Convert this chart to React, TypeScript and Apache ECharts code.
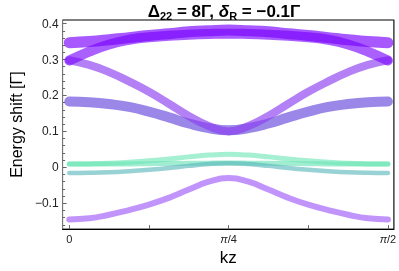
import React, { useEffect, useRef } from "react";
import * as echarts from "echarts";

// kz sample points: 0 .. π/2 in steps of π/32
const kz = [0, 0.0982, 0.1963, 0.2945, 0.3927, 0.4909, 0.589, 0.6872, 0.7854, 0.8836, 0.9817, 1.0799, 1.1781, 1.2763, 1.3744, 1.4726, 1.5708];

// bands (energy shift in units of Γ)
const bandA = [0.347, 0.35, 0.355, 0.361, 0.367, 0.372, 0.377, 0.38, 0.382, 0.38, 0.377, 0.372, 0.367, 0.361, 0.355, 0.35, 0.347];
const bandB = [0.297, 0.322, 0.342, 0.355, 0.362, 0.366, 0.369, 0.371, 0.372, 0.371, 0.369, 0.366, 0.362, 0.355, 0.342, 0.322, 0.297];
const bandC = [0.298, 0.285, 0.265, 0.239, 0.21, 0.177, 0.143, 0.115, 0.1, 0.115, 0.143, 0.177, 0.21, 0.239, 0.265, 0.285, 0.298];
const bandD = [0.183, 0.181, 0.176, 0.168, 0.155, 0.139, 0.122, 0.109, 0.103, 0.109, 0.122, 0.139, 0.155, 0.168, 0.176, 0.181, 0.183];
const bandE1 = [0.009, 0.0095, 0.011, 0.014, 0.018, 0.023, 0.029, 0.034, 0.036, 0.034, 0.029, 0.023, 0.018, 0.014, 0.011, 0.0095, 0.009];
const bandE2 = [0.009, 0.009, 0.009, 0.0095, 0.01, 0.0105, 0.011, 0.0115, 0.012, 0.0115, 0.011, 0.0105, 0.01, 0.0095, 0.009, 0.009, 0.009];
const bandF = [-0.016, -0.0155, -0.014, -0.011, -0.007, -0.002, 0.004, 0.009, 0.011, 0.009, 0.004, -0.002, -0.007, -0.011, -0.014, -0.0155, -0.016];
const bandG = [-0.145, -0.142, -0.132, -0.119, -0.104, -0.085, -0.062, -0.04, -0.03, -0.04, -0.062, -0.085, -0.104, -0.119, -0.132, -0.142, -0.145];

// axis ticks
const xTickValues = [0, 0.3927, 0.7854, 1.1781, 1.5708];
const xLabelValues = [0, 0.7854, 1.5708];
const xLabelTexts = ["0", "{i|π}/4", "{i|π}/2"];
const yMajor = [-0.1, 0, 0.1, 0.2, 0.3, 0.4];
const yMinor = [-0.16, -0.14, -0.12, -0.08, -0.06, -0.04, -0.02, 0.02, 0.04, 0.06, 0.08, 0.12, 0.14, 0.16, 0.18, 0.22, 0.24, 0.26, 0.28, 0.32, 0.34, 0.36, 0.38];

const bands = [
  { name: "D", data: bandD, color: "rgba(100,70,220,0.65)", width: 10 },
  { name: "C", data: bandC, color: "rgba(140,60,240,0.65)", width: 8 },
  { name: "B", data: bandB, color: "rgba(125,10,255,0.65)", width: 10 },
  { name: "A", data: bandA, color: "rgba(120,0,255,0.65)", width: 11 },
  { name: "E2", data: bandE2, color: "rgba(100,225,180,0.6)", width: 5 },
  { name: "F", data: bandF, color: "rgba(85,180,185,0.6)", width: 4.5 },
  { name: "E1", data: bandE1, color: "rgba(105,230,180,0.6)", width: 5 },
  { name: "G", data: bandG, color: "rgba(160,90,250,0.65)", width: 6 },
];

const fmtY = (v: number) => {
  const r = Math.round(v * 10) / 10;
  if (r === 0) return "0";
  return r < 0 ? "\u2212" + Math.abs(r).toFixed(1) : r.toFixed(1);
};

export default function App() {
  const ref = useRef<HTMLDivElement>(null);
  useEffect(() => {
    if (!ref.current) return;
    const chart = echarts.init(ref.current, undefined, { renderer: "svg" });
    const font = "'Liberation Sans', Arial, sans-serif";
    chart.setOption({
      animation: false,
      textStyle: { fontFamily: font },
      grid: { left: 52, right: 3, top: 20, bottom: 38, show: true, borderColor: "#000", borderWidth: 1 },
      xAxis: {
        type: "value",
        min: -0.033,
        max: 1.6,
        name: "kz",
        nameLocation: "middle",
        nameGap: 15,
        nameTextStyle: { fontSize: 17, color: "#000", fontFamily: font },
        axisLine: { show: true, onZero: false, lineStyle: { color: "#000", width: 1 } },
        axisTick: { show: true, inside: true, length: 4, customValues: xTickValues, lineStyle: { color: "#666" } },
        axisLabel: {
          show: true,
          margin: 4,
          customValues: xLabelValues,
          formatter: (v: number) => {
            const i = xLabelValues.findIndex((x) => Math.abs(x - v) < 1e-3);
            return i >= 0 ? xLabelTexts[i] : "";
          },
          fontSize: 11,
          color: "#222",
          fontFamily: font,
          rich: { i: { fontStyle: "italic", fontSize: 11, fontFamily: font, color: "#222" } },
        },
        splitLine: { show: false },
      },
      yAxis: [
        {
          type: "value",
          min: -0.172,
          max: 0.41,
          position: "left",
          name: "Energy shift [Γ]",
          nameLocation: "middle",
          nameRotate: 90,
          nameGap: 26,
          nameTextStyle: { fontSize: 16, color: "#000", fontFamily: font },
          axisLine: { show: true, onZero: false, lineStyle: { color: "#777", width: 1 } },
          axisTick: { show: true, inside: true, length: 4, customValues: yMajor, lineStyle: { color: "#666" } },
          axisLabel: {
            show: true,
            margin: 4,
            customValues: yMajor,
            formatter: fmtY,
            fontSize: 12,
            color: "#222",
            fontFamily: font,
          },
          splitLine: { show: false },
        },
        {
          type: "value",
          min: -0.172,
          max: 0.41,
          position: "left",
          axisLine: { show: false, onZero: false },
          axisTick: { show: true, inside: true, length: 2.5, customValues: yMinor, lineStyle: { color: "#666" } },
          axisLabel: { show: false },
          splitLine: { show: false },
        },
        {
          type: "value",
          min: -0.172,
          max: 0.41,
          position: "right",
          axisLine: { show: true, onZero: false, lineStyle: { color: "#888", width: 1 } },
          axisTick: { show: false },
          axisLabel: { show: false },
          splitLine: { show: false },
        },
      ],
      graphic: [
        {
          type: "text",
          x: 224,
          y: 1,
          style: {
            text: "{b|Δ}{s|22}{b| = 8Γ, }{bi|δ}{s|R}{b| = −0.1Γ}",
            align: "center",
            verticalAlign: "top",
            rich: {
              b: { fontSize: 17, fontWeight: "bold", fontFamily: font, fill: "#000", lineHeight: 20 },
              bi: { fontSize: 17, fontWeight: "bold", fontStyle: "italic", fontFamily: font, fill: "#000", lineHeight: 20 },
              s: { fontSize: 11, fontWeight: "bold", fontFamily: font, fill: "#000", verticalAlign: "bottom", lineHeight: 20, padding: [8, 0, 0, 0] },
            },
          },
        },
      ],
      series: bands.map((b) => ({
        type: "line",
        name: b.name,
        data: kz.map((x, i) => [x, b.data[i]]),
        smooth: true,
        showSymbol: false,
        symbol: "none",
        lineStyle: { color: b.color, width: b.width, cap: "round", join: "round" },
        z: 2,
      })),
    });
    return () => chart.dispose();
  }, []);
  return <div ref={ref} style={{ position: "fixed", left: 0, top: 0, width: 399, height: 271 }} />;
}
